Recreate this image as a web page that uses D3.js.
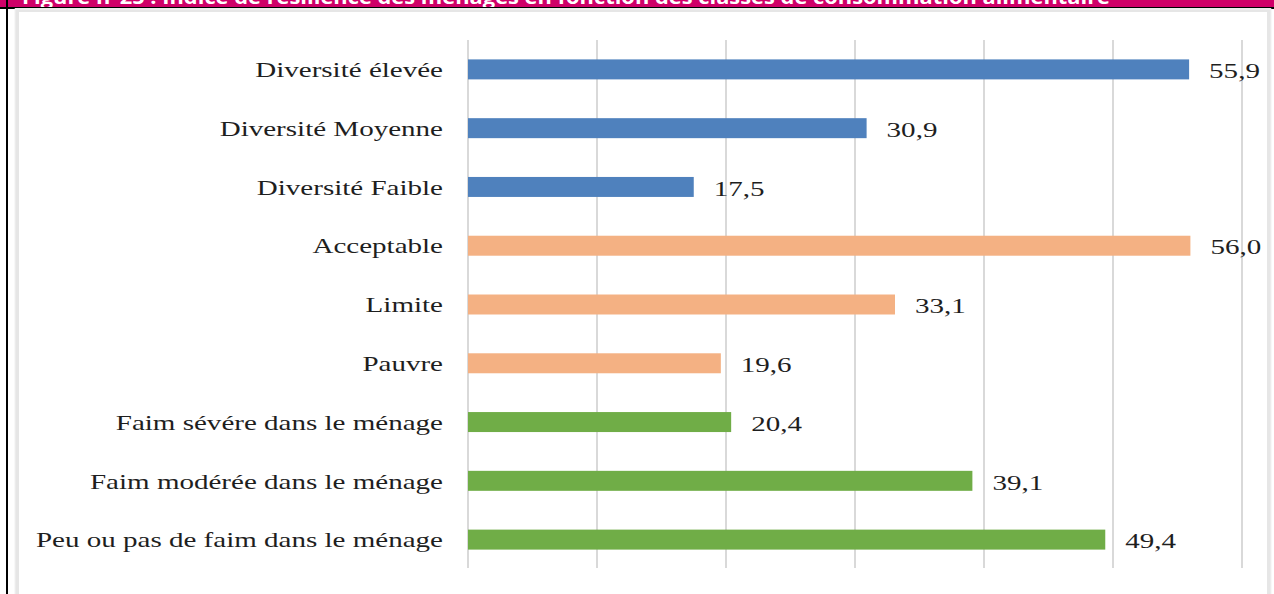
<!DOCTYPE html>
<html lang="fr">
<head>
  <meta charset="UTF-8">
  <title>Indice de résilience des ménages</title>
  <script src="https://d3js.org/d3.v7.min.js"></script>
  <style>
    html, body { margin: 0; padding: 0; background: #fff; }
    svg { display: block; }
    .cat text, .val text { font-family: "Liberation Serif", "Times New Roman", serif; font-size: 22px; fill: #1e1e1e; }
  </style>
</head>
<body>
  <svg width="1274" height="594"></svg>

  <script>
    const title = "Figure n°25 : Indice de résilience des ménages en fonction des classes de consommation alimentaire";

    const categories = [
      "Diversité élevée",
      "Diversité Moyenne",
      "Diversité Faible",
      "Acceptable",
      "Limite",
      "Pauvre",
      "Faim sévére dans le ménage",
      "Faim modérée dans le ménage",
      "Peu ou pas de faim dans le ménage"
    ];
    const values = [55.9, 30.9, 17.5, 56.0, 33.1, 19.6, 20.4, 39.1, 49.4];
    const groups = ["diversite", "diversite", "diversite", "fcs", "fcs", "fcs", "faim", "faim", "faim"];
    const xTicks = [0, 10, 20, 30, 40, 50, 60];

    const svg = d3.select("svg");
    const W = 1274, H = 594;
    const sx = 1.32; // labels in the source look stretched horizontally

    // header band (cut off at the top)
    svg.append("rect").attr("x", 0).attr("y", 0).attr("width", W).attr("height", 8).attr("fill", "#cf0068");
    svg.append("text")
      .attr("x", 22).attr("y", 4)
      .attr("textLength", 1088).attr("lengthAdjust", "spacingAndGlyphs")
      .attr("font-family", "'Open Sans', sans-serif").attr("font-weight", "bold").attr("font-size", 19)
      .attr("fill", "#fff")
      .text(title);
    svg.append("line").attr("x1", 0).attr("x2", W).attr("y1", 8).attr("y2", 8).attr("stroke", "#000").attr("stroke-width", 2);

    // frame shadow + border
    svg.append("rect").attr("x", 17).attr("y", 10).attr("width", 1252).attr("height", 600)
      .attr("fill", "none").attr("stroke", "#e6e6e6").attr("stroke-width", 4);
    svg.append("rect").attr("x", 15).attr("y", 9).attr("width", 1256).attr("height", 600)
      .attr("fill", "none").attr("stroke", "#f2f2f2").attr("stroke-width", 1);
    svg.append("line").attr("x1", 7).attr("x2", 7).attr("y1", 0).attr("y2", H).attr("stroke", "#000").attr("stroke-width", 2);

    const x = d3.scaleLinear().domain([0, 60]).range([468, 1242]);
    const y = d3.scaleBand().domain(categories).range([40, 569]).paddingInner(0.66).paddingOuter(0.33);
    const color = d3.scaleOrdinal().domain(["diversite", "fcs", "faim"]).range(["#4f81bd", "#f4b183", "#70ad47"]);
    const fmt = v => d3.format(".1f")(v).replace(".", ",");

    // gridlines
    svg.append("g").selectAll("line").data(xTicks).join("line")
      .attr("x1", d => x(d)).attr("x2", d => x(d))
      .attr("y1", 40).attr("y2", 568)
      .attr("stroke", "#d9d9d9").attr("stroke-width", 2);

    const rows = categories.map((c, i) => ({cat: c, value: values[i], group: groups[i]}));

    svg.append("g").selectAll("rect").data(rows).join("rect")
      .attr("x", x(0))
      .attr("y", d => y(d.cat))
      .attr("width", d => x(d.value) - x(0))
      .attr("height", y.bandwidth())
      .attr("fill", d => color(d.group));

    // category labels
    svg.append("g").attr("class", "cat").selectAll("g").data(rows).join("g")
      .attr("transform", d => `translate(443,${y(d.cat) + y.bandwidth() / 2}) scale(${sx},1)`)
      .append("text")
      .attr("text-anchor", "end")
      .attr("dy", "0.35em")
      .text(d => d.cat);

    // value labels
    svg.append("g").attr("class", "val").selectAll("g").data(rows).join("g")
      .attr("transform", d => `translate(${x(d.value) + 20},${y(d.cat) + y.bandwidth() / 2 + 1}) scale(${sx},1)`)
      .append("text")
      .attr("dy", "0.35em")
      .text(d => fmt(d.value));
  </script>
</body>
</html>
